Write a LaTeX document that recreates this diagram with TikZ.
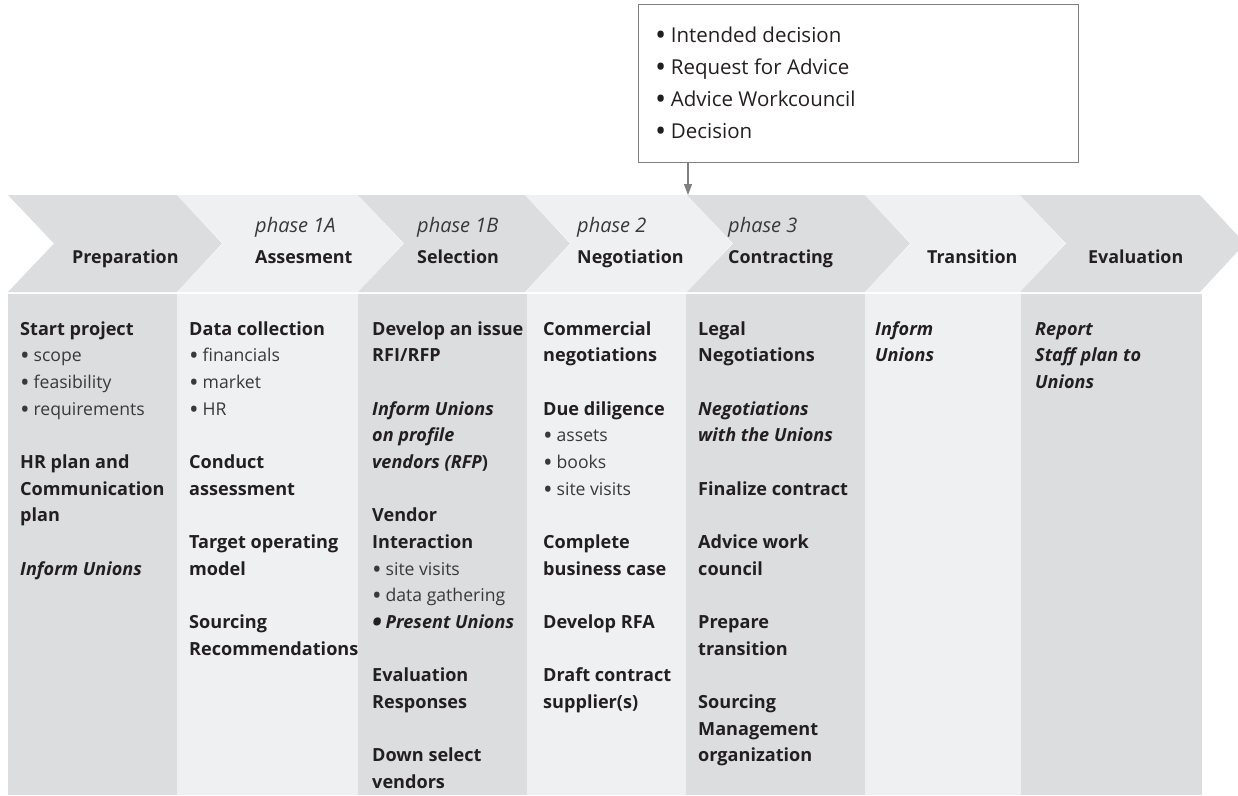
\documentclass[tikz,border=0pt]{standalone}
\usepackage{fontspec}
\usepackage{graphicx}
\setmainfont{Open Sans}
\usetikzlibrary{arrows.meta}
\definecolor{dk}{HTML}{DCDDDF}
\definecolor{lt}{HTML}{EFF0F2}
\definecolor{ink}{HTML}{231F20}
\definecolor{soft}{HTML}{3A3839}
\definecolor{frame}{HTML}{808080}
\newcommand\chevshape[3]{\fill[#1] (#2,195) -- (#3,195) -- ({#3+45},243.5) -- (#3,292) -- (#2,292) -- ({#2+46},243.5) -- cycle;}
\newcommand\bodyln[5]{\node[#1] (#2) at (#3,{335+#4*26.67}) {#5};}
\newcommand\bul{\raisebox{-0.17em}{\scalebox{1.45}{\textbullet}}\hspace{0.22em}}
\begin{document}
\begin{tikzpicture}[x=1pt,y=-1pt,
  base/.style={anchor=base west, inner sep=0pt, text=ink},
  bt/.style={base, font=\fontsize{18.1}{23}\selectfont\bfseries},
  bi/.style={base, font=\fontsize{18.1}{23}\selectfont\bfseries\itshape},
  bu/.style={base, text=soft, font=\fontsize{17.6}{23}\selectfont},
  hd/.style={base, font=\fontsize{17.9}{23}\selectfont\bfseries},
  ph/.style={base, text=soft, font=\fontsize{20}{23}\selectfont\itshape},
  cl/.style={base, font=\fontsize{20.5}{23}\selectfont},
  callbox/.style={draw=frame, line width=1.1pt, anchor=north west, inner sep=0pt, minimum width=440, minimum height=158},
  arr/.style={draw=frame, line width=1.1pt, -{Triangle[width=8pt,length=11pt]}}
]
\useasboundingbox (0,0) rectangle (1238,795);
% header chevrons
\chevshape{dk}{8}{177}
\chevshape{lt}{177}{358}
\chevshape{dk}{358}{525}
\chevshape{lt}{525}{687}
\chevshape{dk}{687}{865}
\chevshape{lt}{865}{1020}
\chevshape{dk}{1020}{1200}
% columns
\fill[dk] (8,294) rectangle (177,795);
\fill[lt] (177,294) rectangle (358,795);
\fill[dk] (358,294) rectangle (527,795);
\fill[lt] (527,294) rectangle (686,795);
\fill[dk] (686,294) rectangle (865,795);
\fill[lt] (865,294) rectangle (1021,795);
\fill[dk] (1021,294) rectangle (1202,795);
% header labels
\node[hd] (hprep) at (72,263) {Preparation};
\node[ph] (p1a) at (255,232) {phase 1A};
\node[hd] (hass) at (255,263) {Assesment};
\node[ph] (p1b) at (417,232) {phase 1B};
\node[hd] (hsel) at (417,263) {Selection};
\node[ph] (p2) at (577,232) {phase 2};
\node[hd] (hneg) at (577,263) {Negotiation};
\node[ph] (p3) at (728,232) {phase 3};
\node[hd] (hcon) at (728,263) {Contracting};
\node[hd] (htra) at (927,263) {Transition};
\node[hd] (heva) at (1088,263) {Evaluation};
% callout
\node[callbox] (callout) at (638,4) {};
\node[cl] (cla) at (655,42) {\bul Intended decision};
\node[cl] (clb) at (655,74) {\bul Request for Advice};
\node[cl] (clc) at (655,106) {\bul Advice Workcouncil};
\node[cl] (cld) at (655,138) {\bul Decision};
\coordinate (tip) at (688,195);
\draw[arr] (callout.south -| tip) -- (tip);
% column 1
\bodyln{bt}{a0}{20}{0}{Start project}
\bodyln{bu}{a1}{20}{1}{\bul scope}
\bodyln{bu}{a2}{20}{2}{\bul feasibility}
\bodyln{bu}{a3}{20}{3}{\bul requirements}
\bodyln{bt}{a5}{20}{5}{HR plan and}
\bodyln{bt}{a6}{20}{6}{Communication}
\bodyln{bt}{a7}{20}{7}{plan}
\bodyln{bi}{a9}{20}{9}{Inform Unions}
% column 2
\bodyln{bt}{b0}{189}{0}{Data collection}
\bodyln{bu}{b1}{189}{1}{\bul financials}
\bodyln{bu}{b2}{189}{2}{\bul market}
\bodyln{bu}{b3}{189}{3}{\bul HR}
\bodyln{bt}{b5}{189}{5}{Conduct}
\bodyln{bt}{b6}{189}{6}{assessment}
\bodyln{bt}{b8}{189}{8}{Target operating}
\bodyln{bt}{b9}{189}{9}{model}
\bodyln{bt}{b11}{189}{11}{Sourcing}
\bodyln{bt}{b12}{189}{12}{Recommendations}
% column 3
\bodyln{bt}{c0}{372}{0}{Develop an issue}
\bodyln{bt}{c1}{372}{1}{RFI/RFP}
\bodyln{bi}{c3}{372}{3}{Inform Unions}
\bodyln{bi}{c4}{372}{4}{on profile}
\bodyln{bi}{c5}{372}{5}{vendors (RFP\upshape)}
\bodyln{bt}{c7}{372}{7}{Vendor}
\bodyln{bt}{c8}{372}{8}{Interaction}
\bodyln{bu}{c9}{372}{9}{\bul site visits}
\bodyln{bu}{c10}{372}{10}{\bul data gathering}
\bodyln{bi}{c11}{372}{11}{\bul Present Unions}
\bodyln{bt}{c13}{372}{13}{Evaluation}
\bodyln{bt}{c14}{372}{14}{Responses}
\bodyln{bt}{c16}{372}{16}{Down select}
\bodyln{bt}{c17}{372}{17}{vendors}
% column 4
\bodyln{bt}{d0}{543}{0}{Commercial}
\bodyln{bt}{d1}{543}{1}{negotiations}
\bodyln{bt}{d3}{543}{3}{Due diligence}
\bodyln{bu}{d4}{543}{4}{\bul assets}
\bodyln{bu}{d5}{543}{5}{\bul books}
\bodyln{bu}{d6}{543}{6}{\bul site visits}
\bodyln{bt}{d8}{543}{8}{Complete}
\bodyln{bt}{d9}{543}{9}{business case}
\bodyln{bt}{d11}{543}{11}{Develop RFA}
\bodyln{bt}{d13}{543}{13}{Draft contract}
\bodyln{bt}{d14}{543}{14}{supplier(s)}
% column 5
\bodyln{bt}{e0}{698}{0}{Legal}
\bodyln{bt}{e1}{698}{1}{Negotiations}
\bodyln{bi}{e3}{698}{3}{Negotiations}
\bodyln{bi}{e4}{698}{4}{with the Unions}
\bodyln{bt}{e6}{698}{6}{Finalize contract}
\bodyln{bt}{e8}{698}{8}{Advice work}
\bodyln{bt}{e9}{698}{9}{council}
\bodyln{bt}{e11}{698}{11}{Prepare}
\bodyln{bt}{e12}{698}{12}{transition}
\bodyln{bt}{e14}{698}{14}{Sourcing}
\bodyln{bt}{e15}{698}{15}{Management}
\bodyln{bt}{e16}{698}{16}{organization}
% column 6
\bodyln{bi}{f0}{875}{0}{Inform}
\bodyln{bi}{f1}{875}{1}{Unions}
% column 7
\bodyln{bi}{g0}{1035}{0}{Report}
\bodyln{bi}{g1}{1035}{1}{Staff plan to}
\bodyln{bi}{g2}{1035}{2}{Unions}
\end{tikzpicture}
\end{document}
